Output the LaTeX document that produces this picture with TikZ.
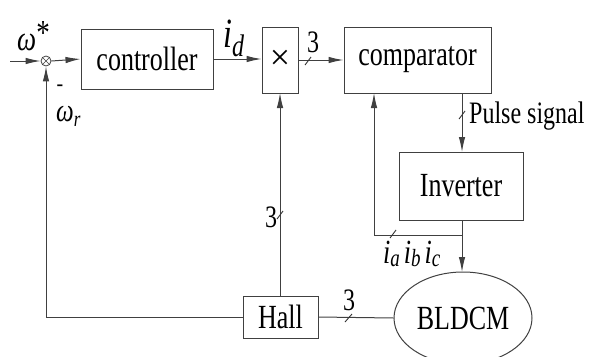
\documentclass[tikz,border=0pt]{standalone}
\usepackage{fontspec}
\setmainfont{Liberation Serif}
\usetikzlibrary{arrows.meta,shapes.geometric}
\newcommand{\vs}[1]{\scalebox{1}[1.3]{#1}}
\begin{document}
\begin{tikzpicture}[x=1pt,y=-1pt,
  blk/.style={draw=black!75,line width=1pt,rectangle,inner sep=0pt,font=\fontsize{26}{26}\selectfont},
  wire/.style={draw=black!75,line width=1pt},
  arr/.style={wire,-{Latex[length=15pt,width=6.5pt]}},
  tick/.style={draw=black!80,line width=0.9pt},
  lbl/.style={inner sep=0pt,font=\fontsize{24}{24}\selectfont}]
\useasboundingbox (0,0) rectangle (593,356);
% blocks
\node[draw=black!75,line width=0.8pt,circle,minimum size=10pt,inner sep=0pt] (sum) at (46,61) {};
\draw[black!75,line width=0.7pt] (sum.north west) -- (sum.south east) (sum.north east) -- (sum.south west);
\node[blk,minimum width=132pt,minimum height=60pt] (ctrl) at (147,59) {\vs{controller}};
\node[blk,minimum width=36pt,minimum height=66pt,font=\fontsize{36}{36}\selectfont] (mult) at (280,60) {×};
\node[blk,minimum width=147pt,minimum height=66pt] (comp) at (417.5,60) {\vs{comparator}};
\node[blk,minimum width=124pt,minimum height=68pt] (inv) at (461,186) {\vs{Inverter}};
\node[blk,ellipse,minimum width=138pt,minimum height=92pt] (motor) at (463,318) {\vs{BLDCM}};
\node[blk,minimum width=75pt,minimum height=42pt] (hall) at (280.5,317) {\vs{Hall}};
% coordinates
\coordinate (in) at (10,61);
\coordinate (fbl) at (46,317);
\coordinate (pt) at (462,93);
\coordinate (pb) at (462,152);
\coordinate (it) at (462,220);
\coordinate (ib) at (462,272);
\coordinate (ij) at (462,235);
\coordinate (ic) at (374,235);
\coordinate (ctop) at (374,93);
\coordinate (htop) at (280,296);
\coordinate (mbot) at (280,93);
% connectors
\draw[arr] (in) -- (sum.west);
\draw[arr] (sum.east) -- (ctrl.west);
\draw[arr] (ctrl.east) -- (ctrl.east -| mult.west);
\draw[arr] (mult.east) -- (mult.east -| comp.west);
\draw[arr] (pt) -- (pb);
\draw[arr] (it) -- (ib);
\draw[arr] (ij) -- (ic) -- (ctop);
\draw[arr] (htop) -- (mbot);
\draw[arr] (hall.west) -- (fbl) -- (sum.south);
\draw[wire] (hall.east) -- (motor.west);
% slashes
\draw[tick] (305,65) -- (311,57);
\draw[tick] (459,119) -- (465,111);
\draw[tick] (390,238) -- (396,230);
\draw[tick] (277,219) -- (283,211);
\draw[tick] (345,322) -- (352,314);
% labels
\node[lbl,anchor=base] at (313,52) {\vs{3}};
\node[lbl,anchor=base] at (271,227) {\vs{3}};
\node[lbl,anchor=base] at (349,310) {\vs{3}};
\node[inner sep=0pt,anchor=base west,font=\fontsize{24}{24}\selectfont] at (469,123) {\vs{Pulse signal}};
\node[inner sep=0pt,anchor=base west,font=\fontsize{27}{27}\selectfont] at (17,50) {\vs{\textit{ω}}\raisebox{6pt}{\vs{*}}};
\node[inner sep=0pt,anchor=base west,font=\fontsize{25}{25}\selectfont] at (56,121) {\vs{\textit{ω}\raisebox{-4pt}{\fontsize{17}{17}\selectfont\textit{r}}}};
\node[inner sep=0pt,font=\fontsize{20}{20}\selectfont\bfseries] at (60,88) {-};
\node[inner sep=0pt,anchor=base west,font=\fontsize{32}{32}\selectfont] at (223,47) {\vs{\textit{i}\raisebox{-7pt}{\fontsize{24}{24}\selectfont\textit{d}}}};
\node[inner sep=0pt,anchor=base west,font=\fontsize{26}{26}\selectfont] at (383,263) {\vs{\textit{i}\raisebox{-3pt}{\fontsize{19}{19}\selectfont\textit{a}}\hspace{4pt}\textit{i}\raisebox{-3pt}{\fontsize{19}{19}\selectfont\textit{b}}\hspace{4pt}\textit{i}\raisebox{-3pt}{\fontsize{19}{19}\selectfont\textit{c}}}};
\end{tikzpicture}
\end{document}
